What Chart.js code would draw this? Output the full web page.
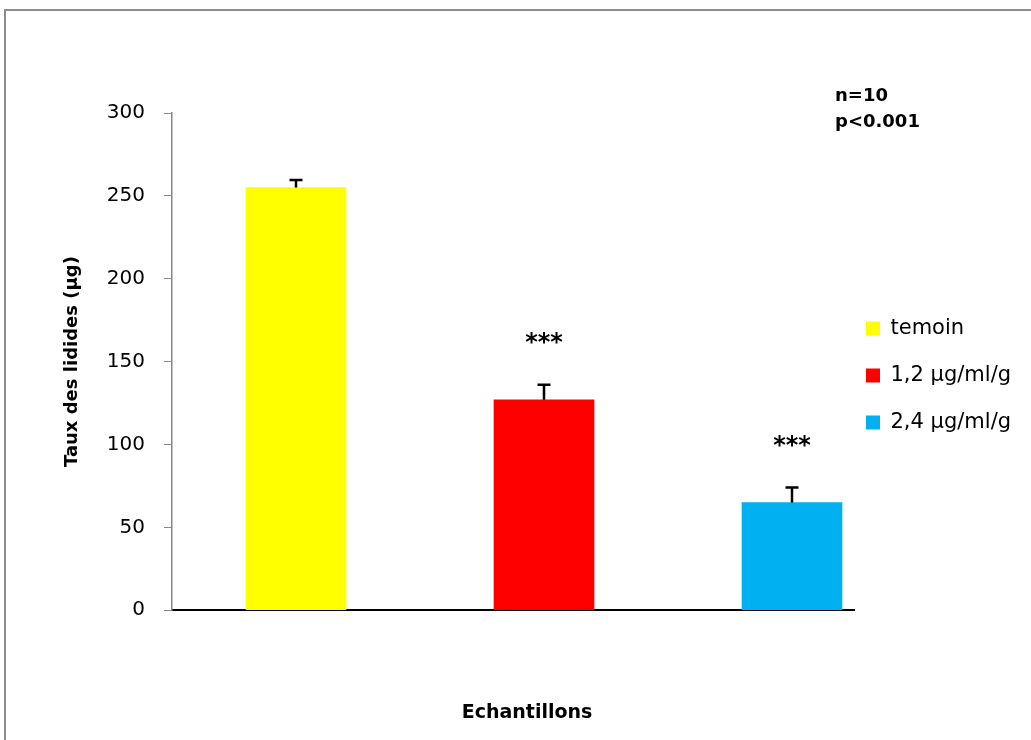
<!DOCTYPE html>
<html>
<head>
<meta charset="utf-8">
<script src="https://cdn.jsdelivr.net/npm/chart.js@4/dist/chart.umd.min.js"></script>
<style>
  html, body { margin: 0; padding: 0; background: #fff; overflow: hidden; }
  #frame { position: absolute; left: 4px; top: 9px; width: 1100px; height: 800px; border: 2px solid #8c8c8c; }
  #lipides { position: absolute; left: 0; top: 0; }
</style>
</head>
<body>
<div id="frame"></div>
<canvas id="lipides" width="1031" height="740"></canvas>
<script>
// Taux des lidides par échantillon
const categories = ['temoin', '1,2 µg/ml/g', '2,4 µg/ml/g'];
const lipidValues = [255, 127, 65];
const errorValues = [4.5, 9, 9];
const significance = ['', '***', '***'];
const barColors = ['#FFFF00', '#FF0000', '#00B0F0'];
const statsLines = ['n=10', 'p<0.001'];

const FONT = '"DejaVu Sans", sans-serif';

const datasets = categories.map((name, i) => ({
    label: name,
    data: [{ x: i + 1, y: lipidValues[i] }],
    backgroundColor: barColors[i],
    borderWidth: 0,
    barThickness: 100,
    grouped: false
}));

// error bars, stars and the n / p note
const annotations = {
    id: 'annotations',
    afterDatasetsDraw(chart) {
        const ctx = chart.ctx;
        const y = chart.scales.y;
        ctx.save();
        datasets.forEach((ds, i) => {
            const bar = chart.getDatasetMeta(i).data[0];
            const top = y.getPixelForValue(lipidValues[i] + errorValues[i]);
            ctx.strokeStyle = '#000';
            ctx.lineWidth = 2.5;
            ctx.beginPath();
            ctx.moveTo(bar.x, bar.y);
            ctx.lineTo(bar.x, top);
            ctx.moveTo(bar.x - 6.5, top);
            ctx.lineTo(bar.x + 6.5, top);
            ctx.stroke();

            if (significance[i]) {
                ctx.fillStyle = '#000';
                ctx.font = 'bold 24px ' + FONT;
                ctx.textAlign = 'center';
                ctx.textBaseline = 'alphabetic';
                ctx.fillText(significance[i], bar.x, top - 35);
            }
        });

        const area = chart.chartArea;
        ctx.fillStyle = '#000';
        ctx.font = 'bold 18px ' + FONT;
        ctx.textAlign = 'left';
        ctx.textBaseline = 'middle';
        statsLines.forEach((t, k) => {
            ctx.fillText(t, area.right - 19, area.top - 17 + k * 26);
        });
        ctx.restore();
    }
};

// legend sits close to the plot; narrow box for layout, wide box for drawing
const legendShift = {
    id: 'legendShift',
    afterInit(chart) {
        const lg = chart.legend;
        const fit = lg.fit.bind(lg);
        lg.fit = () => { fit(); lg.width = 150; };
    },
    afterLayout(chart) {
        const lg = chart.legend;
        lg.left -= 14;
        lg.right += 60;
        lg.width = lg.right - lg.left;
        lg.top -= 46;
        lg.bottom -= 46;
    }
};

new Chart(document.getElementById('lipides'), {
    type: 'bar',
    data: { datasets },
    plugins: [annotations, legendShift],
    options: {
        responsive: false,
        animation: false,
        layout: { padding: { left: 50, top: 113, right: 27, bottom: 10 } },
        plugins: {
            legend: {
                position: 'right',
                labels: {
                    boxWidth: 14,
                    boxHeight: 14,
                    padding: 26,
                    color: '#000',
                    font: { family: FONT, size: 21 }
                }
            },
            title: {
                display: true,
                position: 'bottom',
                text: 'Echantillons',
                color: '#000',
                font: { family: FONT, size: 19, weight: 'bold' },
                padding: { top: 0, bottom: 6 }
            },
            tooltip: { enabled: false }
        },
        scales: {
            x: {
                type: 'linear',
                min: 0.5,
                max: 3.25,
                offset: false,
                grid: { display: false },
                ticks: { display: false },
                border: { color: '#000', width: 2 },
                afterFit(scale) { scale.height = 91; }
            },
            y: {
                min: 0,
                max: 300,
                ticks: {
                    stepSize: 50,
                    padding: 19,
                    color: '#000',
                    font: { family: FONT, size: 20 }
                },
                grid: {
                    drawOnChartArea: false,
                    drawTicks: true,
                    tickLength: 8,
                    tickColor: '#868686'
                },
                border: { color: '#868686', width: 1.5 },
                title: {
                    display: true,
                    text: 'Taux des lidides (µg)',
                    color: '#000',
                    font: { family: FONT, size: 18, weight: 'bold' },
                    padding: { top: 12, bottom: 0 }
                },
                afterFit(scale) { scale.width = 122; }
            }
        }
    }
});
</script>
</body>
</html>
